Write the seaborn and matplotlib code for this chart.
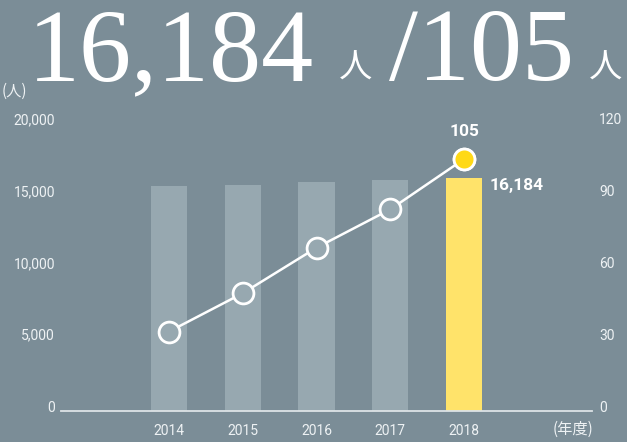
import matplotlib
matplotlib.use("Agg")
import matplotlib.pyplot as plt
import matplotlib.transforms as mtransforms
import numpy as np
import pandas as pd
import seaborn as sns

# data
years = ["2014", "2015", "2016", "2017", "2018"]
people = [15620, 15690, 15900, 16040, 16184]   # bars, left axis (人)
units = [33, 49, 68, 84, 105]                  # line, right axis
left_ticks = [0, 5000, 10000, 15000, 20000]
right_ticks = [0, 30, 60, 90, 120]

BG = "#7b8d97"
BAR = "#97a8b0"
YELLOW_BAR = "#ffe36a"
YELLOW_DOT = "#ffd916"
TXT = "#eef2f4"

sns.set_theme(style="white")
plt.rcParams["font.family"] = ["Roboto", "Noto Sans CJK JP", "DejaVu Sans"]

W, H = 627, 442
fig = plt.figure(figsize=(W / 100, H / 100), dpi=100, facecolor=BG)

# axes placed in pixel terms: x 61..592, y baseline 410.7, 20,000 at 123
ax = fig.add_axes([61 / W, (H - 410.7) / H, 531 / W, (410.7 - 123) / H])
ax.set_facecolor(BG)

df = pd.DataFrame({"year": years, "people": people})
colors = [BAR] * (len(years) - 1) + [YELLOW_BAR]
sns.barplot(data=df, x="year", y="people", hue="year", palette=colors,
            width=0.49, saturation=1, legend=False, ax=ax, zorder=2,
            linewidth=0, edgecolor="none")

ax.set_xlim(-1.463, 5.732)
ax.set_ylim(0, 20000)
ax.set_yticks(left_ticks)
ax.set_yticklabels([f"{v:,}" for v in left_ticks])
ax.set_xlabel("")
ax.set_ylabel("")
for s in ["top", "left", "right"]:
    ax.spines[s].set_visible(False)
ax.spines["bottom"].set_color("#dde3e6")
ax.spines["bottom"].set_linewidth(1.3)
ax.tick_params(axis="both", length=0, colors=TXT, labelsize=10)
ax.tick_params(axis="y", pad=4.3)
ax.tick_params(axis="x", pad=9.5)

# right axis for the line
ax2 = ax.twinx()
ax2.set_ylim(0, 120)
ax2.set_yticks(right_ticks)
ax2.set_yticklabels([str(v) for v in right_ticks])
for s in ["top", "left", "right", "bottom"]:
    ax2.spines[s].set_visible(False)
ax2.tick_params(axis="y", length=0, colors=TXT, labelsize=10, pad=5)

xs = np.arange(len(years))
sns.lineplot(x=xs, y=units, color="white", linewidth=1.8, marker="o",
             markersize=15, markerfacecolor=BAR, markeredgecolor="white",
             markeredgewidth=2.0, ax=ax2, zorder=5, clip_on=False)
ax2.plot(xs[-1], units[-1], "o", markersize=15, markerfacecolor=YELLOW_DOT,
         markeredgecolor="white", markeredgewidth=2.0, zorder=6, clip_on=False)
ax2.set_xlim(-1.463, 5.732)

# tick labels sit a few px above their gridline in the reference
lift = mtransforms.ScaledTranslation(0, 4.5 / 100, fig.dpi_scale_trans)
for lab in ax.get_yticklabels() + ax2.get_yticklabels():
    lab.set_transform(lab.get_transform() + lift)

# value labels
ax2.annotate(str(units[-1]), (xs[-1], units[-1]), xytext=(0, 19.5),
             textcoords="offset points", ha="center", va="center",
             color="white", fontsize=12.5, fontweight="bold")
ax.annotate(f"{people[-1]:,}", (xs[-1], people[-1]), xytext=(18.5, -5.8),
            textcoords="offset points", ha="left", va="center",
            color="white", fontsize=12.5, fontweight="bold")

# unit labels
fig.text(27 / W, 1 - 91.5 / H, "(人)", color=TXT, fontsize=11,
         family=["Noto Sans CJK JP"], ha="right", va="center")
fig.text(593 / W, 1 - 429 / H, "(年度)", color=TXT, fontsize=11,
         family=["Noto Sans CJK JP"], ha="right", va="center")

# big headline
serif = ["Liberation Serif", "DejaVu Serif"]
fig.text(28 / W, 1 - 80 / H, "16,184", color="white", fontsize=75,
         family=serif, ha="left", va="baseline")
fig.text(339 / W, 1 - 78 / H, "人", color="white", fontsize=24,
         family=["Noto Sans CJK JP"], ha="left", va="baseline")
fig.text(389 / W, 1 - 80 / H, "/105", color="white", fontsize=75,
         family=serif, ha="left", va="baseline")
fig.text(589 / W, 1 - 78 / H, "人", color="white", fontsize=24,
         family=["Noto Sans CJK JP"], ha="left", va="baseline")

fig.savefig("out.png", dpi=100, facecolor=BG)
